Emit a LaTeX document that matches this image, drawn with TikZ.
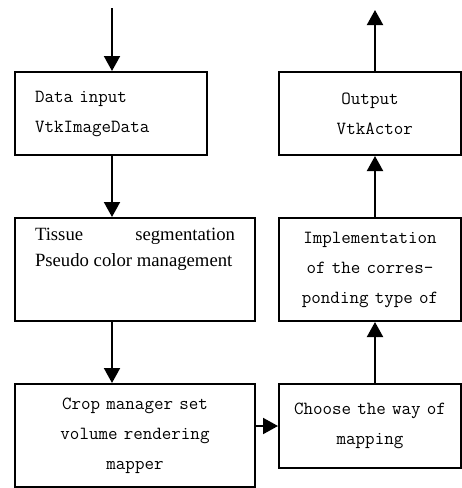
\documentclass[tikz,border=0pt]{standalone}
\usepackage{fontspec}
\newfontfamily\timesfont{Liberation Serif}
\usetikzlibrary{arrows.meta}

\begin{document}
\begin{tikzpicture}[x=1pt,y=-1pt,
	box/.style={draw,line width=2pt,inner xsep=6pt,inner ysep=0pt,font=\ttfamily\fontsize{18.5}{30}\selectfont},
	flow/.style={line width=2pt,-{Triangle[length=15pt,width=16pt]}}]
	\useasboundingbox (0,0) rectangle (462,488);
	\node[box,text width=152pt,inner xsep=20pt,minimum height=83pt,align=left] (data) at (111,113.5) {Data input\\VtkImageData};
	\node[box,inner xsep=0pt,minimum width=240pt,minimum height=103pt] (tissue) at (135,269.5) {\parbox[c][83pt][t]{200pt}{\timesfont\fontsize{18.7}{26}\selectfont Tissue\hfill segmentation\\Pseudo color management}};
	\node[box,text width=200pt,align=center,minimum width=240pt,minimum height=103pt] (crop) at (135,435.5) {Crop manager set\\volume rendering\\mapper};
	\node[box,text width=170pt,align=center,minimum width=182pt,minimum height=84pt] (choose) at (370,426) {Choose the way of\\mapping};
	\node[box,text width=170pt,align=center,minimum width=182pt,minimum height=103pt] (impl) at (370,269.5) {Implementation\\of the corres-\\ponding type of};
	\node[box,text width=170pt,align=center,minimum width=182pt,minimum height=83pt] (output) at (370,113.5) {Output\\\hspace*{9.7pt}VtkActor};
	\coordinate (in) at (112,8);
	\coordinate (out) at (375,10);
	\draw[flow] (in) -- (in |- data.north);
	\draw[flow] (in |- data.south) -- (in |- tissue.north);
	\draw[flow] (in |- tissue.south) -- (in |- crop.north);
	\draw[flow] (choose.west -| crop.east) -- (choose.west);
	\draw[flow] (out |- choose.north) -- (out |- impl.south);
	\draw[flow] (out |- impl.north) -- (out |- output.south);
	\draw[flow] (out |- output.north) -- (out);
\end{tikzpicture}
\end{document}
